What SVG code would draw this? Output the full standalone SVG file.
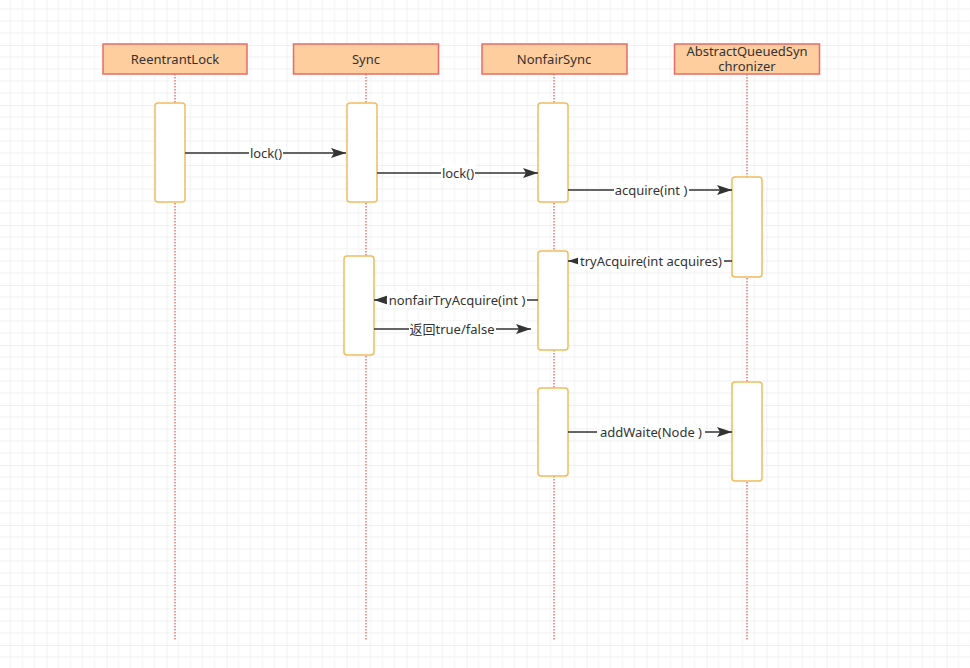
<svg xmlns="http://www.w3.org/2000/svg" width="970" height="668" viewBox="0 0 970 668">
<style>
text{font-family:"Noto Sans","Noto Sans CJK SC",sans-serif;font-size:13px;fill:#333;text-anchor:middle}
.hdr{fill:#FFCE9F;stroke:#EA6B66;stroke-width:1.5}
.act{fill:#fff;stroke:#F0BD5E;stroke-width:1.5}
.life{stroke:#E07A72;stroke-width:1.5;stroke-dasharray:1.5 1.5;fill:none}
.msg{stroke:#333;stroke-width:1.5;fill:none}
.lbl{fill:#fff}
</style>
<defs>
<pattern id="grid" patternUnits="userSpaceOnUse" x="46.5" y="45" width="60" height="60">
<path d="M12 0V60M24 0V60M36 0V60M48 0V60M0 12H60M0 24H60M0 36H60M0 48H60" stroke="#f1f1f1" stroke-width="1"/>
<path d="M0 0V60M0 0H60" stroke="#e2e2e2" stroke-width="1"/>
</pattern>
<marker id="arr" markerUnits="userSpaceOnUse" markerWidth="16" markerHeight="12" refX="15" refY="5" orient="auto">
<path d="M0 0L15 5L0 10L3 5Z" fill="#333"/>
</marker>
</defs>
<rect width="970" height="668" fill="#fff"/>
<rect width="970" height="668" fill="url(#grid)"/>

<g id="lifelines">
<line class="life" x1="175" y1="74" x2="175" y2="640"/>
<line class="life" x1="366" y1="74" x2="366" y2="640"/>
<line class="life" x1="554" y1="74" x2="554" y2="640"/>
<line class="life" x1="747" y1="74" x2="747" y2="640"/>
</g>

<g id="ReentrantLock">
<rect class="hdr" x="103" y="44" width="144" height="30"/>
<text x="175" y="64">ReentrantLock</text>
</g>
<g id="Sync">
<rect class="hdr" x="293.5" y="44" width="145" height="30"/>
<text x="366" y="64">Sync</text>
</g>
<g id="NonfairSync">
<rect class="hdr" x="482" y="44" width="145" height="30"/>
<text x="554" y="64">NonfairSync</text>
</g>
<g id="AQS">
<rect class="hdr" x="674.5" y="44" width="145" height="30"/>
<text x="747" y="56">AbstractQueuedSyn</text>
<text x="747" y="71">chronizer</text>
</g>

<g id="act-rl-1"><rect class="act" x="155" y="103" width="30" height="99" rx="3"/></g>
<g id="act-sync-1"><rect class="act" x="347" y="103" width="30" height="99" rx="3"/></g>
<g id="act-nf-1"><rect class="act" x="538" y="103" width="30" height="99" rx="3"/></g>
<g id="act-aqs-1"><rect class="act" x="732" y="177" width="30" height="100" rx="3"/></g>
<g id="act-nf-2"><rect class="act" x="538" y="251" width="30" height="99" rx="3"/></g>
<g id="act-sync-2"><rect class="act" x="344" y="256" width="30" height="99" rx="3"/></g>
<g id="act-nf-3"><rect class="act" x="538" y="388" width="30" height="88" rx="3"/></g>
<g id="act-aqs-2"><rect class="act" x="732" y="382" width="30" height="99" rx="3"/></g>

<g id="connectors">
<line class="msg" x1="185" y1="153" x2="346" y2="153" marker-end="url(#arr)"/>
<rect class="lbl" x="249" y="145" width="34" height="16"/>
<text x="266" y="158">lock()</text>

<line class="msg" x1="377" y1="173" x2="538" y2="173" marker-end="url(#arr)"/>
<rect class="lbl" x="441" y="165" width="34" height="16"/>
<text x="458" y="178">lock()</text>

<line class="msg" x1="568" y1="190" x2="732" y2="190" marker-end="url(#arr)"/>
<rect class="lbl" x="614" y="182" width="75" height="16"/>
<text x="651" y="195">acquire(int )</text>

<line class="msg" x1="732" y1="261" x2="568" y2="261" marker-end="url(#arr)"/>
<rect class="lbl" x="578" y="253" width="146" height="16"/>
<text x="651" y="266">tryAcquire(int acquires)</text>

<line class="msg" x1="538" y1="300" x2="374" y2="300" marker-end="url(#arr)"/>
<rect class="lbl" x="387" y="292" width="140" height="16"/>
<text x="457" y="305">nonfairTryAcquire(int )</text>

<line class="msg" x1="374" y1="329" x2="531" y2="329" marker-end="url(#arr)"/>
<rect class="lbl" x="409" y="321" width="87" height="16"/>
<text x="452" y="334">返回true/false</text>

<line class="msg" x1="568" y1="432" x2="732" y2="432" marker-end="url(#arr)"/>
<rect class="lbl" x="597" y="424" width="108" height="16"/>
<text x="651" y="437">addWaite(Node )</text>
</g>
</svg>
